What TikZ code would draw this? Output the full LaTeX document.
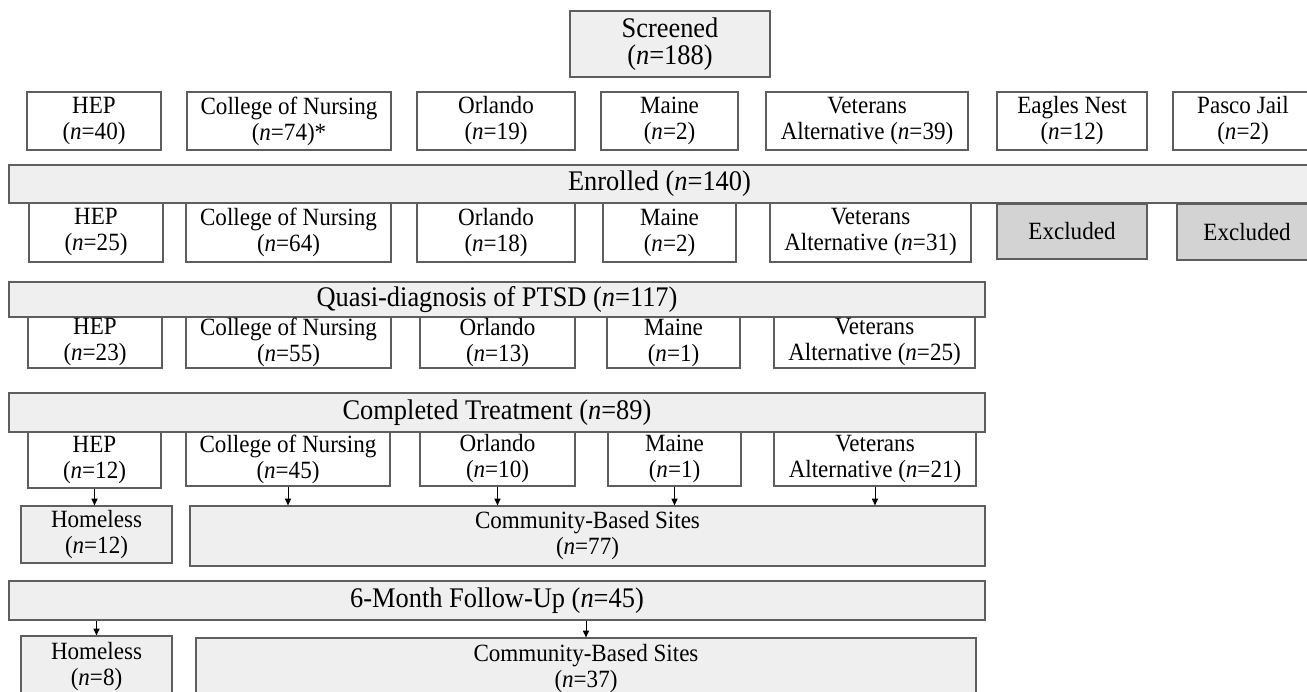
\documentclass[tikz,border=0pt]{standalone}
\usepackage{fontspec}
\setmainfont[FakeStretch=0.93]{Liberation Serif}
\usetikzlibrary{arrows.meta}
\definecolor{bordc}{HTML}{5E5E5E}
\definecolor{barf}{HTML}{EFEFEF}
\definecolor{exf}{HTML}{D3D3D3}
\newcommand\ncount[1]{(\textit{n}=#1)}
\begin{document}
\begin{tikzpicture}[x=0.75pt,y=-0.75pt,
 rect/.style n args={4}{minimum width={(#3-#1)*0.75pt}, minimum height={(#4-#2)*0.75pt}, at={({(#1+#3)/2},{(#2+#4)/2})}},
 box/.style={draw=bordc,line width=0.9pt,fill=white,align=center,inner sep=0pt,font=\fontsize{18.6}{19.5}\selectfont},
 bar/.style={box,fill=barf,font=\fontsize{21.3}{20.3}\selectfont},
 gbox/.style={box,fill=barf},
 excl/.style={box,fill=exf},
 arr/.style={draw=black,line width=0.7pt,-{Triangle[length=5pt,width=4.5pt]}}]
\useasboundingbox (0,0) rectangle (1307,692);
\clip (0,0) rectangle (1307,692);
% Screened
\node[bar,rect={570}{11}{770}{77}] (scr) {Screened\\\ncount{188}};
% Row 1
\node[box,rect={27}{92}{161}{150}] (hepA) {HEP\\\ncount{40}};
\node[box,rect={187}{92}{391}{150}] (conA) {College of Nursing\\\ncount{74}*};
\node[box,rect={417}{92}{575}{150}] (orlA) {Orlando\\\ncount{19}};
\node[box,rect={601}{92}{738}{150}] (maiA) {Maine\\\ncount{2}};
\node[box,rect={766}{92}{968}{150}] (vetA) {Veterans\\Alternative \ncount{39}};
\node[box,rect={997}{92}{1147}{150}] (eagA) {Eagles Nest\\\ncount{12}};
\node[box,rect={1173}{92}{1313}{150}] (pasA) {Pasco Jail\\\ncount{2}};
% Enrolled
\node[bar,rect={9}{165}{1310}{203}] (enr) {Enrolled \ncount{140}};
\node[box,rect={29}{203}{163}{262}] (hepB) {HEP\\\ncount{25}};
\node[box,rect={186}{203}{391}{262}] (conB) {College of Nursing\\\ncount{64}};
\node[box,rect={417}{203}{575}{262}] (orlB) {Orlando\\\ncount{18}};
\node[box,rect={603}{203}{736}{262}] (maiB) {Maine\\\ncount{2}};
\node[box,rect={770}{203}{971}{262}] (vetB) {Veterans\\Alternative \ncount{31}};
\node[excl,rect={997}{204}{1147}{259}] (exc1) {Excluded};
\node[excl,rect={1177}{204}{1317}{260}] (exc2) {Excluded};
% Quasi
\node[bar,rect={9}{282}{985}{317}] (qua) {Quasi-diagnosis of PTSD \ncount{117}};
\node[box,rect={28}{317}{162}{368}] (hepC) {HEP\\\ncount{23}};
\node[box,rect={186}{317}{391}{368}] (conC) {College of Nursing\\\ncount{55}};
\node[box,rect={420}{317}{575}{368}] (orlC) {Orlando\\\ncount{13}};
\node[box,rect={607}{317}{740}{368}] (maiC) {Maine\\\ncount{1}};
\node[box,rect={774}{317}{975}{368}] (vetC) {Veterans\\Alternative \ncount{25}};
% Completed
\node[bar,rect={9}{393}{985}{432}] (cmp) {Completed Treatment \ncount{89}};
\node[box,rect={28}{432}{161}{488}] (hepD) {HEP\\\ncount{12}};
\node[box,rect={186}{432}{390}{486}] (conD) {College of Nursing\\\ncount{45}};
\node[box,rect={420}{432}{575}{486}] (orlD) {Orlando\\\ncount{10}};
\node[box,rect={608}{432}{741}{486}] (maiD) {Maine\\\ncount{1}};
\node[box,rect={774}{432}{976}{486}] (vetD) {Veterans\\Alternative \ncount{21}};
\node[gbox,rect={21}{506}{172}{563}] (home1) {Homeless\\\ncount{12}};
\node[gbox,rect={190}{506}{985}{566}] (comm1) {Community-Based Sites\\\ncount{77}};
\draw[arr] (hepD.south) -- (hepD.south |- home1.north);
\draw[arr] (conD.south) -- (conD.south |- comm1.north);
\draw[arr] (orlD.south) -- (orlD.south |- comm1.north);
\draw[arr] (maiD.south) -- (maiD.south |- comm1.north);
\draw[arr] (vetD.south) -- (vetD.south |- comm1.north);
% Follow-up
\node[bar,rect={9}{581}{985}{620}] (fu) {6-Month Follow-Up \ncount{45}};
\node[gbox,rect={21}{636}{172}{697}] (home2) {Homeless\\\ncount{8}};
\node[gbox,rect={196}{638}{976}{700}] (comm2) {Community-Based Sites\\\ncount{37}};
\draw[arr] (home2.north |- fu.south) -- (home2.north);
\draw[arr] (comm2.north |- fu.south) -- (comm2.north);
\end{tikzpicture}
\end{document}
